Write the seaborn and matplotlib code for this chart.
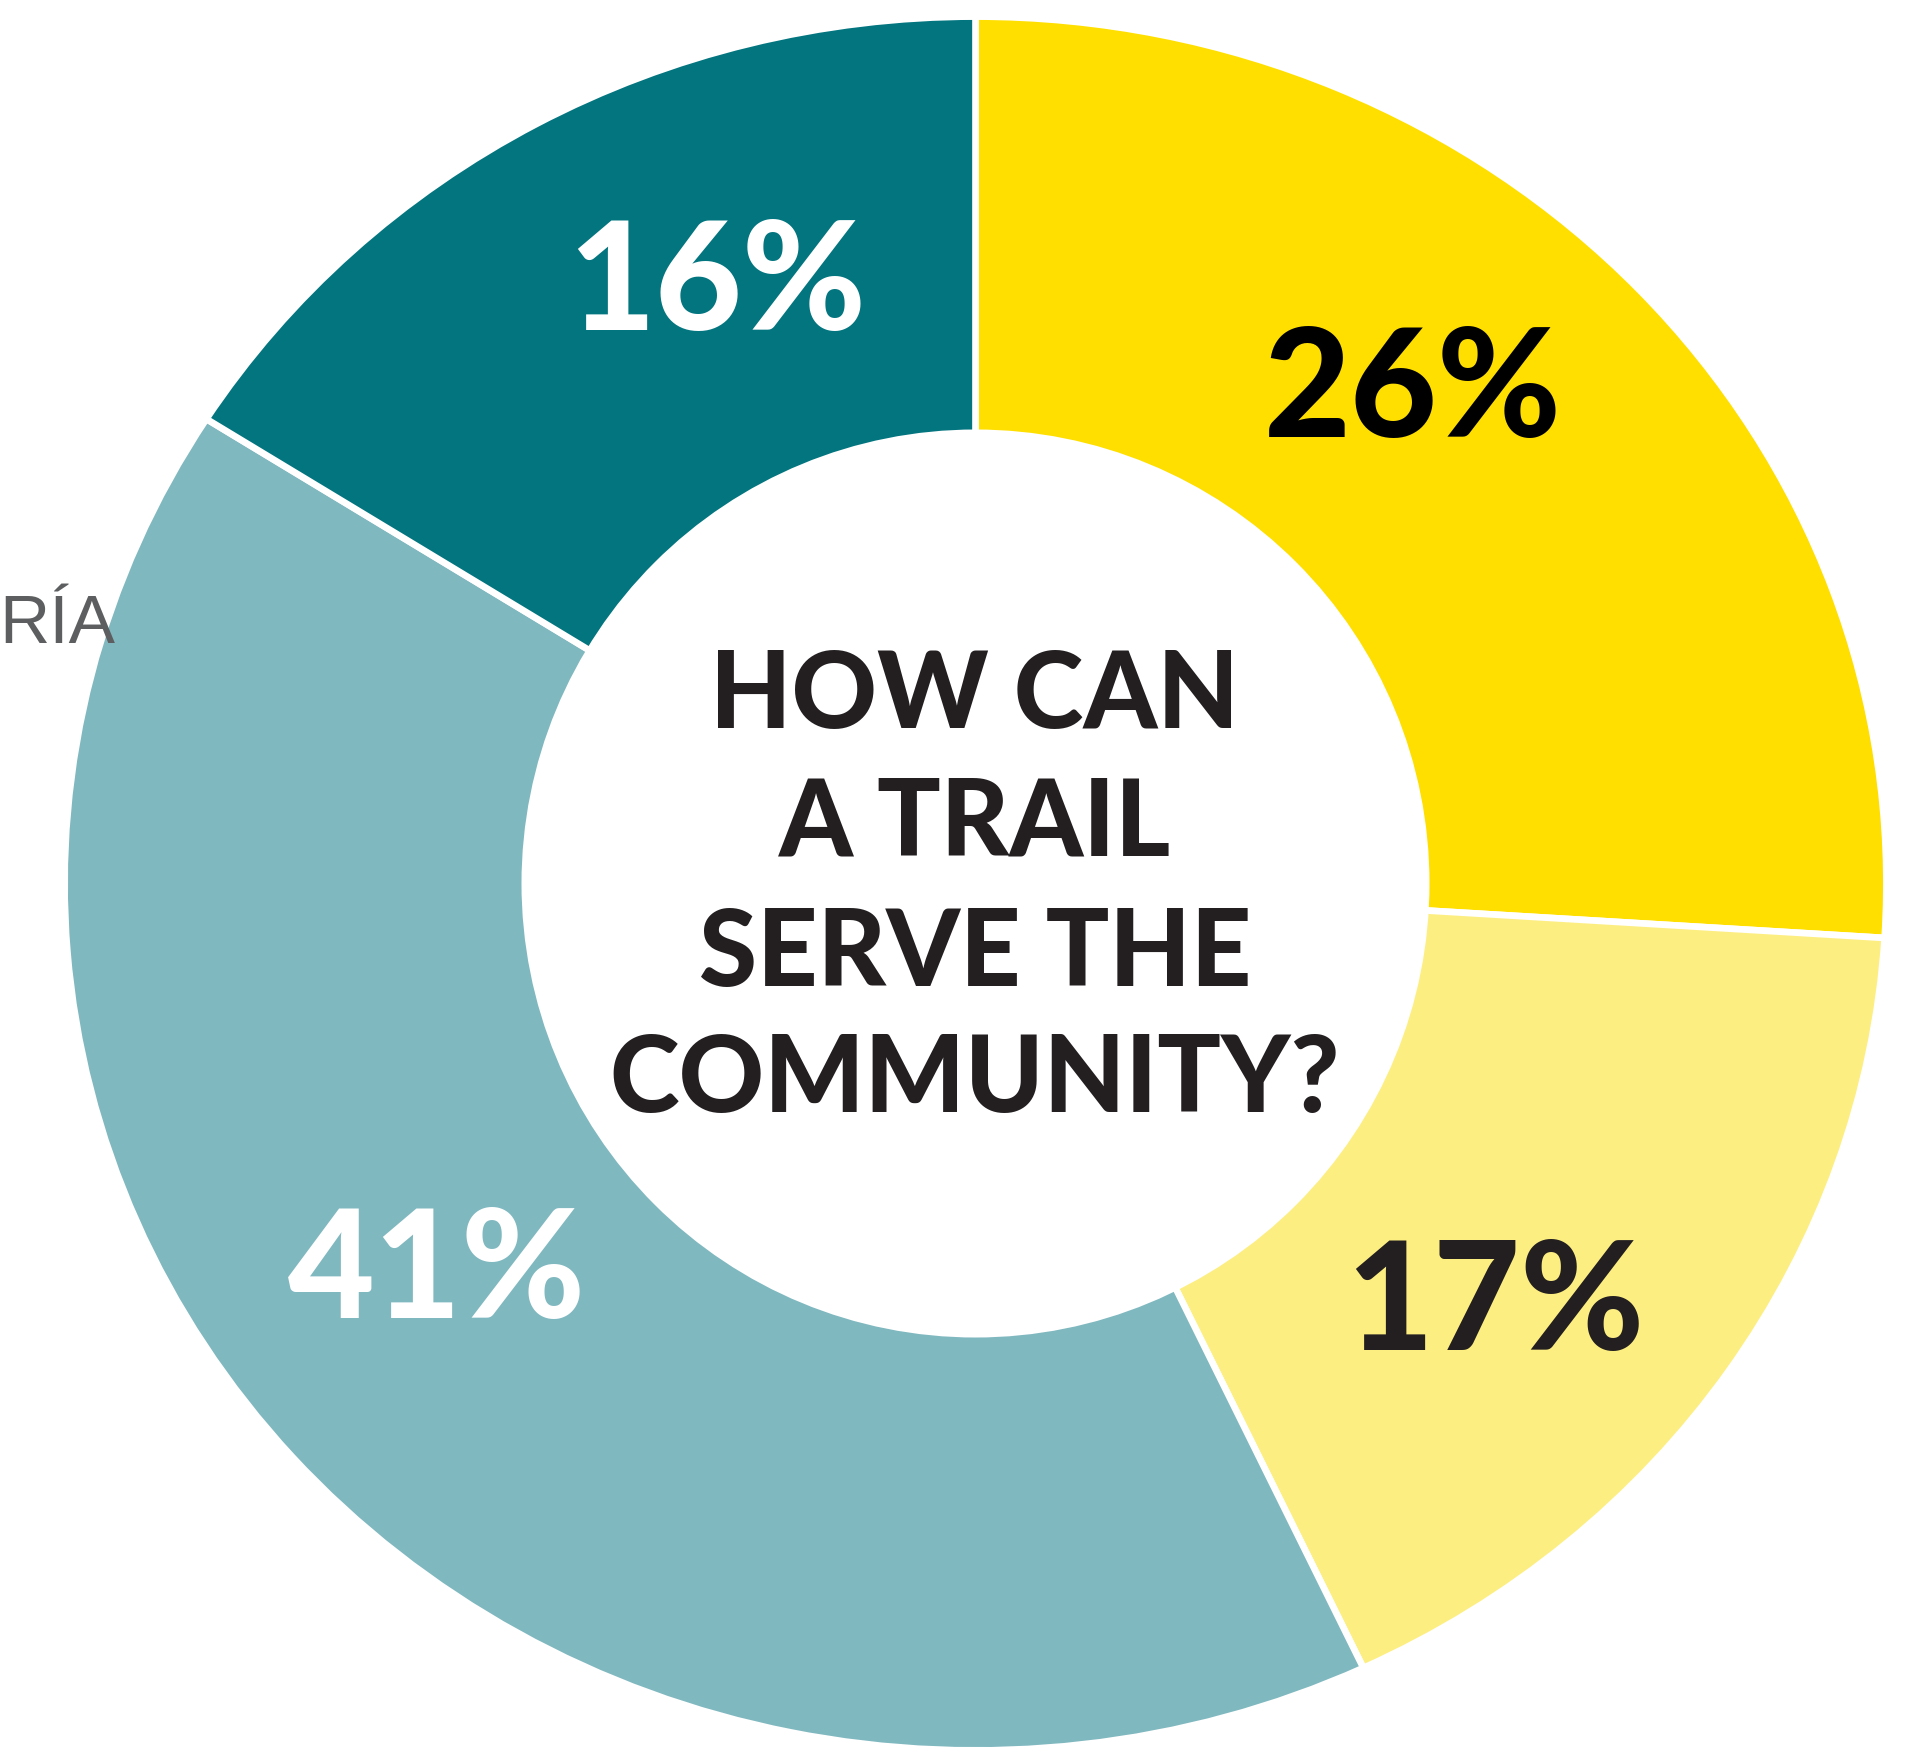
import matplotlib
matplotlib.use("Agg")
import matplotlib.pyplot as plt
from matplotlib.patches import Ellipse
import seaborn as sns

# survey shares, clockwise from 12 o'clock
shares = [26, 17, 41, 16]
share_labels = ["26%", "17%", "41%", "16%"]
colors = ["#ffdf00", "#fdee82", "#80b8c0", "#02757f"]
label_colors = ["#000000", "#231f20", "#ffffff", "#ffffff"]
question = ["HOW CAN", "A TRAIL", "SERVE THE", "COMMUNITY?"]

sns.set_theme(style="white")
plt.rcParams["font.family"] = ["Lato", "DejaVu Sans"]

W, H = 1931, 1753
fig = plt.figure(figsize=(W / 100, H / 100), dpi=100)
ax = fig.add_axes([0, 0, 1, 1])

wedges, _ = ax.pie(shares, colors=colors, startangle=90, counterclock=False,
                   radius=1, wedgeprops=dict(edgecolor="white", linewidth=4.8))
ax.set_aspect("auto")

# outer ring is a bit wider than tall, hole is round
cx, cy = 975.5, 883.5
sx, sy = 910.9, 866.9
ax.set_xlim(-cx / sx, (W - cx) / sx)
ax.set_ylim(-(H - cy) / sy, cy / sy)
ax.add_patch(Ellipse((0, 0), 2 * 454 / sx, 2 * 454 / sy,
                     facecolor="white", edgecolor="none", zorder=5))
ax.axis("off")

# label spots in pixels (x centre, baseline)
label_pos = [(1413, 437), (1495, 1350), (437, 1318), (717, 330)]
for txt, c, (x, y) in zip(share_labels, label_colors, label_pos):
    fig.text(x / W, 1 - y / H, txt, color=c, fontsize=108, fontweight="black",
             ha="center", va="baseline", zorder=10)

line_base = [728, 856, 986, 1112]
for txt, y in zip(question, line_base):
    fig.text(975 / W, 1 - y / H, txt, color="#231f20", fontsize=76,
             fontweight="black", ha="center", va="baseline", zorder=10)

fig.text(115 / W, 1 - 643 / H, "RÍA", color="#5d5e60", fontsize=50,
         family=["Liberation Sans", "DejaVu Sans"], ha="right", va="baseline")

plt.savefig("out.png", dpi=100)
